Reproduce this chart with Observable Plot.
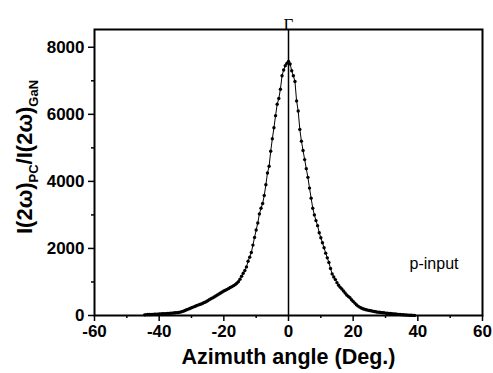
<!DOCTYPE html>
<html>
<head>
<meta charset="utf-8">
<script src="https://cdn.jsdelivr.net/npm/d3@7"></script>
<script src="https://cdn.jsdelivr.net/npm/@observablehq/plot@0.6"></script>
<style>
  html, body { margin: 0; padding: 0; background: #fff; }
  #chart svg { display: block; }
  #chart g[aria-label$="tick label"] text { font-size: 17px; font-weight: bold; }
</style>
</head>
<body>
<div id="chart"></div>
<script>
// Azimuth angle (deg) and intensity ratio
const angles = [
  -44.5,-44,-43.5,-43,-42.5,-42,-41.5,-41,-40.5,-40,-39.5,-39,-38.5,-38,-37.5,-37,-36.5,-36,-35.5,-35,
  -34.5,-34,-33.5,-33,-32.5,-32,-31.5,-31,-30.5,-30,-29.5,-29,-28.5,-28,-27.5,-27,-26.5,-26,-25.5,-25,
  -24.5,-24,-23.5,-23,-22.5,-22,-21.5,-21,-20.5,-20,-19.5,-19,-18.5,-18,-17.5,-17,-16.5,-16,-15.5,-15,
  -14.5,-14,-13.5,-13,-12.5,-12,-11.5,-11,-10.5,-10,-9.5,-9,-8.5,-8,-7.5,-7,-6.5,-6,-5.5,-5,
  -4.5,-4,-3.5,-3,-2.5,-2,-1.5,-1,-0.5,0,0.5,1,1.5,2,2.5,3,3.5,4,4.5,5,
  5.5,6,6.5,7,7.5,8,8.5,9,9.5,10,10.5,11,11.5,12,12.5,13,13.5,14,14.5,15,
  15.5,16,16.5,17,17.5,18,18.5,19,19.5,20,20.5,21,21.5,22,22.5,23,23.5,24,24.5,25,
  25.5,26,26.5,27,27.5,28,28.5,29,29.5,30,30.5,31,31.5,32,32.5,33,33.5,34,34.5,35,
  35.5,36,36.5,37,37.5,38,38.5,39
];
const ratios = [
  20,25,28,30,32,35,38,40,42,45,48,50,52,55,58,62,65,70,75,80,
  85,90,100,115,130,150,170,190,210,230,250,270,290,310,330,345,365,390,410,440,
  470,500,525,550,580,610,640,670,700,730,755,780,805,835,860,890,920,960,1010,1080,
  1170,1260,1340,1450,1620,1740,1880,2100,2330,2550,2760,3030,3200,3340,3580,3900,4250,4450,4900,5270,
  5600,5960,6300,6470,6750,7150,7320,7450,7520,7580,7500,7300,7150,6980,6400,6100,5550,5200,4920,4650,
  4380,4120,3800,3500,3200,3000,2830,2680,2470,2320,2170,2020,1860,1720,1580,1400,1240,1150,1070,980,
  900,840,790,730,670,610,570,530,470,420,370,320,280,250,225,200,185,170,160,150,
  140,130,120,110,100,95,90,85,80,72,68,62,58,52,48,45,40,35,30,26,
  22,18,15,12,9,7,5,3
];
const xMajorTicks = [-60,-40,-20,0,20,40,60];
const xMinorTicks = [-50,-30,-10,10,30,50];
const yMajorTicks = [0,2000,4000,6000,8000];
const yMinorTicks = [1000,3000,5000,7000];
const xLabel = "Azimuth angle (Deg.)";
const peakLabel = "Γ";
const noteLabel = "p-input";

const data = angles.map((a, i) => ({angle: a, ratio: ratios[i]}));
const plain = d => String(d);

const plot = Plot.plot({
  width: 493,
  height: 373,
  marginLeft: 94,
  marginRight: 11,
  marginTop: 29,
  marginBottom: 58,
  style: {fontFamily: "'Liberation Sans', Arial, sans-serif", fontSize: "16px", fontWeight: "bold", color: "black", background: "white"},
  x: {domain: [-60, 60]},
  y: {domain: [0, 8530]},
  marks: [
    Plot.axisX(xMajorTicks, {tickSize: 6, tickPadding: 3, strokeWidth: 1.5, label: null, tickFormat: plain}),
    Plot.axisX(xMinorTicks, {tickSize: 3, tickFormat: () => "", strokeWidth: 1.5, label: null}),
    Plot.axisY(yMajorTicks, {tickSize: 6, tickPadding: 4, strokeWidth: 1.5, label: null, tickFormat: plain}),
    Plot.axisY(yMinorTicks, {tickSize: 3, tickFormat: () => "", strokeWidth: 1.5, label: null}),
    Plot.ruleX([0], {stroke: "black", strokeWidth: 1.5}),
    Plot.line(data, {x: "angle", y: "ratio", stroke: "black", strokeWidth: 1}),
    Plot.dot(data, {x: "angle", y: "ratio", r: 1.7, fill: "black", stroke: "none"}),
    Plot.frame({stroke: "black", strokeWidth: 2}),
    Plot.text([peakLabel], {x: 0, frameAnchor: "top", dy: -12, text: d => d, fontFamily: "'Liberation Serif', 'Times New Roman', serif", fontSize: 17, fontWeight: "normal"}),
    Plot.text([noteLabel], {x: 45, y: 1550, text: d => d, fontSize: 16, fontWeight: "normal"}),
    Plot.text([xLabel], {frameAnchor: "bottom", dy: 48, text: d => d, fontSize: 21.5, fontWeight: "bold"})
  ]
});

document.getElementById("chart").appendChild(plot);

// Y axis title with subscripts
const svg = d3.select(plot);
const yTitle = svg.append("text")
  .attr("transform", "translate(32,157) rotate(-90)")
  .attr("text-anchor", "middle")
  .attr("font-family", "'Liberation Sans', Arial, sans-serif")
  .attr("font-weight", "bold")
  .attr("font-size", 22)
  .attr("fill", "black");
yTitle.append("tspan").text("I(2ω)");
yTitle.append("tspan").attr("font-size", 13).attr("dy", 6).text("PC");
yTitle.append("tspan").attr("dy", -6).text("/I(2ω)");
yTitle.append("tspan").attr("font-size", 13).attr("dy", 6).text("GaN");
</script>
</body>
</html>
